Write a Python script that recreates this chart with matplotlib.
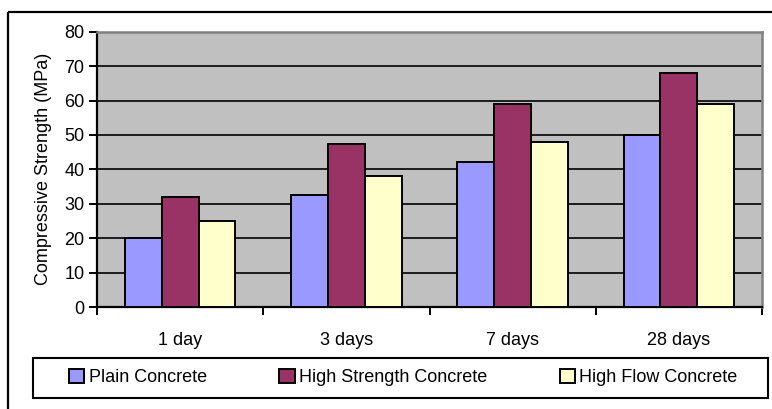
import matplotlib
matplotlib.use("Agg")
import matplotlib.pyplot as plt
from matplotlib.patches import Rectangle, Patch
from matplotlib.lines import Line2D
import numpy as np

plt.rcParams['font.family'] = ['Liberation Sans', 'DejaVu Sans']

ages = ["1 day", "3 days", "7 days", "28 days"]
plain = [20, 32.5, 42, 50]
high_strength = [32, 47.5, 59, 68]
high_flow = [25, 38, 48, 59]
series_names = ["Plain Concrete", "High Strength Concrete", "High Flow Concrete"]
colors = ["#9999FF", "#993366", "#FFFFCC"]

W, H = 772, 409
fig = plt.figure(figsize=(W / 100, H / 100), dpi=100)

# outer chart frame (left and top edges)
fig.add_artist(Line2D([8 / W, 8 / W], [0, 1 - 12 / H], transform=fig.transFigure,
                      color="black", lw=1.6, solid_capstyle="butt"))
fig.add_artist(Line2D([8 / W, 1], [1 - 12 / H, 1 - 12 / H], transform=fig.transFigure,
                      color="black", lw=1.6, solid_capstyle="butt"))

left, right, top, bottom = 97, 762, 31.7, 307
ax = fig.add_axes([left / W, 1 - bottom / H, (right - left) / W, (bottom - top) / H])
ax.set_facecolor("#C0C0C0")

x = np.arange(len(ages))
bw = 0.222
for i, (vals, c) in enumerate(zip([plain, high_strength, high_flow], colors)):
    ax.bar(x + (i - 1) * bw, vals, width=bw, color=c, edgecolor="black",
           linewidth=1.4, zorder=3)

ax.set_xlim(-0.5, len(ages) - 0.5)
ax.set_ylim(0, 80)
ax.set_yticks(np.arange(0, 81, 10))
ax.yaxis.grid(True, color="black", linewidth=1.2, zorder=1)
ax.set_axisbelow(True)

ax.set_xticks(np.arange(-0.5, len(ages)), minor=False)
ax.set_xticklabels([])
ax.set_xticks(x, minor=True)
ax.set_xticklabels(ages, minor=True)
ax.tick_params(axis="x", which="major", length=6, width=1.4, direction="out", color="black")
ax.tick_params(axis="x", which="minor", length=0, pad=18, labelsize=13)
ax.tick_params(axis="y", length=6, width=1.4, direction="out", pad=3, labelsize=13)

for s in ["left", "bottom"]:
    ax.spines[s].set_color("black")
    ax.spines[s].set_linewidth(1.6)
for s in ["top", "right"]:
    ax.spines[s].set_color("#808080")
    ax.spines[s].set_linewidth(1.8)

ax.set_ylabel("Compressive Strength (MPa)", fontsize=13)
ax.yaxis.set_label_coords(-0.068, 0.5)

# legend box
lx0, ly0, lx1, ly1 = 33, 357.5, 767.5, 398
fig.add_artist(Rectangle((lx0 / W, 1 - ly1 / H), (lx1 - lx0) / W, (ly1 - ly0) / H,
                         transform=fig.transFigure, facecolor="white",
                         edgecolor="black", linewidth=1.5))
handles = [Patch(facecolor=c, edgecolor="black", linewidth=1.4) for c in colors]
fig.legend(handles, series_names, ncol=3, loc="center",
           bbox_to_anchor=((lx0 + lx1) / 2 / W + 0.004, 1 - (ly0 + ly1) / 2 / H),
           frameon=False, fontsize=13, handlelength=0.85, handleheight=0.85,
           handletextpad=0.25, columnspacing=4.0, borderpad=0)

fig.savefig("out.png", dpi=100)
